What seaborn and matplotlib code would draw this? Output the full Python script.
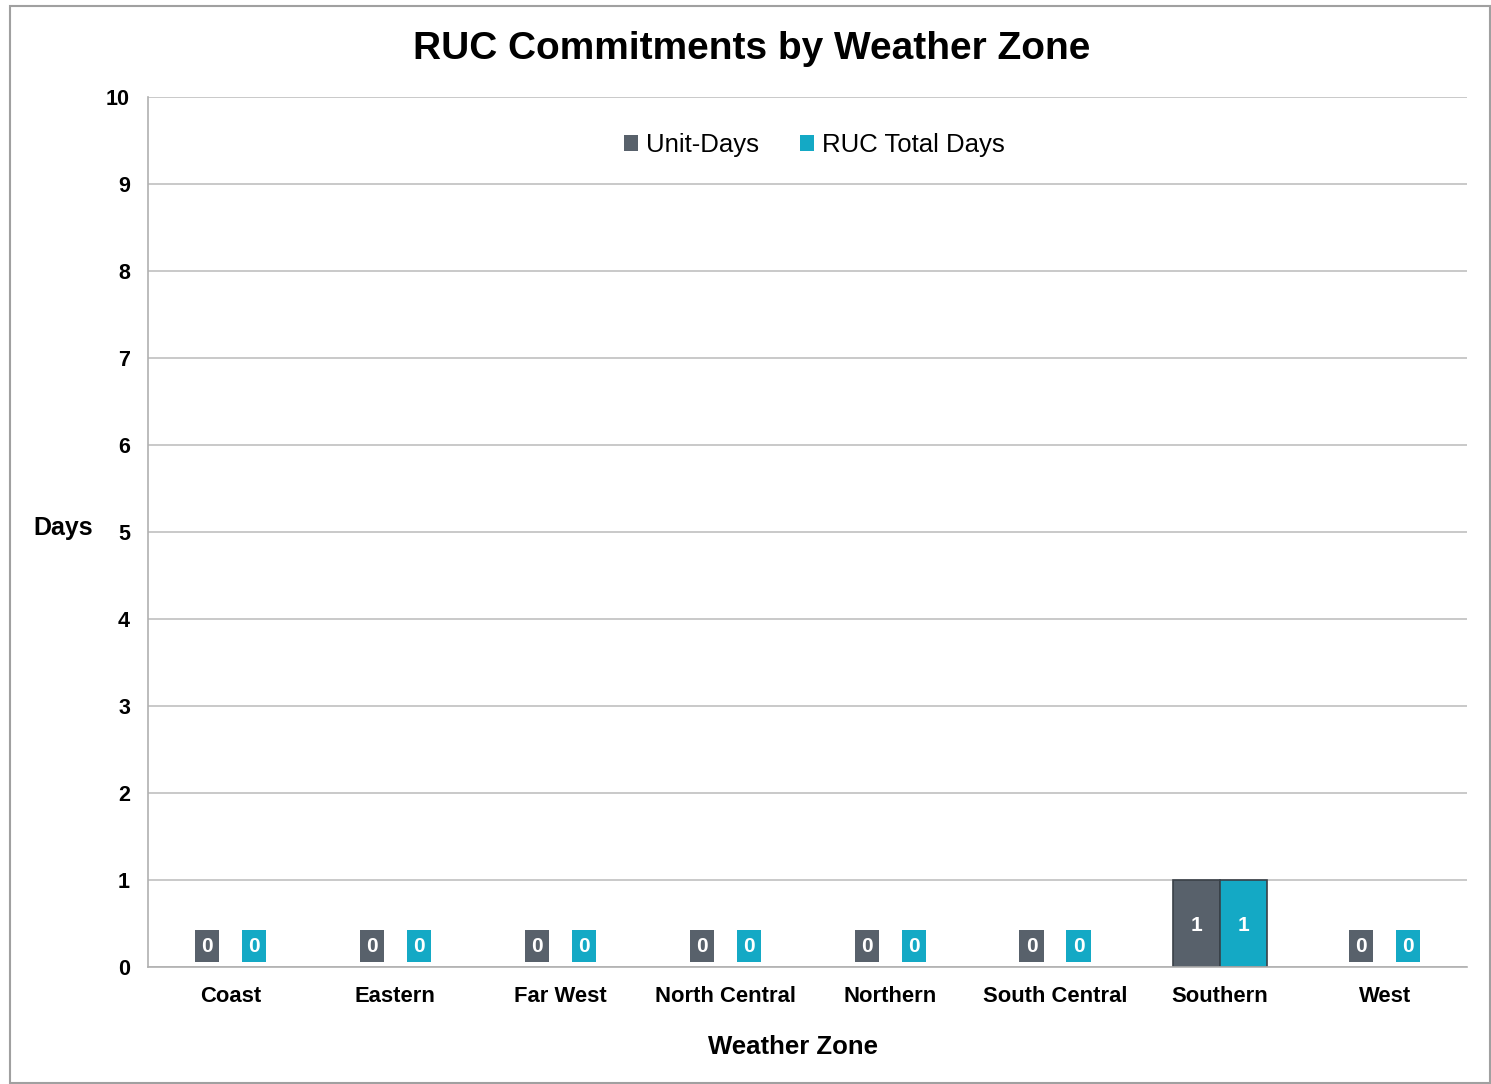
import pandas as pd
import numpy as np
import matplotlib.pyplot as plt
import seaborn as sns
from matplotlib.patches import Rectangle

zones = ['Coast', 'Eastern', 'Far West', 'North Central', 'Northern', 'South Central', 'Southern', 'West']
unit_days = [0, 0, 0, 0, 0, 0, 1, 0]
ruc_total_days = [0, 0, 0, 0, 0, 0, 1, 0]
series = ['Unit-Days', 'RUC Total Days']
colors = ['#58616b', '#14a9c5']

df = pd.DataFrame({
    'zone': zones * 2,
    'days': unit_days + ruc_total_days,
    'series': [series[0]] * len(zones) + [series[1]] * len(zones),
})

sns.set_style('white')
plt.rcParams['font.family'] = ['Liberation Sans', 'DejaVu Sans']
plt.rcParams['text.color'] = 'black'
plt.rcParams['axes.labelcolor'] = 'black'
plt.rcParams['xtick.color'] = 'black'
plt.rcParams['ytick.color'] = 'black'

fig = plt.figure(figsize=(14.91, 10.84), dpi=100)
ax = fig.add_axes([0.0993, 0.1079, 0.8848, 0.8026])

sns.barplot(data=df, x='zone', y='days', hue='series', palette=colors,
            width=0.57, ax=ax, edgecolor='#3a4148', linewidth=1.2, saturation=1)

# no outline on empty bars
for bar in ax.patches:
    if bar.get_height() == 0:
        bar.set_linewidth(0)

ax.set_ylim(0, 10)
ax.set_xlim(-0.5, 7.5)
ax.set_yticks(range(0, 11))
ax.yaxis.grid(True, color='#c0c0c0', linewidth=1.2)
ax.set_axisbelow(True)
for s in ['top', 'right']:
    ax.spines[s].set_visible(False)
for s in ['left', 'bottom']:
    ax.spines[s].set_color('#b0b0b0')
    ax.spines[s].set_linewidth(1.2)
ax.tick_params(axis='y', length=7, color='#b0b0b0', width=1.2, labelsize=15.5, pad=6)
ax.tick_params(axis='x', length=0, labelsize=15.8, pad=14)
for lab in ax.get_xticklabels() + ax.get_yticklabels():
    lab.set_fontweight('bold')

ax.set_xlabel('Weather Zone', fontsize=18.5, fontweight='bold')
ax.xaxis.set_label_coords(0.489, -0.078)
ax.set_ylabel('Days', fontsize=18, fontweight='bold', rotation=0, va='center')
ax.yaxis.set_label_coords(-0.064, 0.505)

# data labels
for cont, col in zip(ax.containers, colors):
    for bar in cont:
        h = bar.get_height()
        xc = bar.get_x() + bar.get_width() / 2
        if h > 0:
            ax.text(xc, h * 0.48, f'{h:.0f}', ha='center', va='center', color='white',
                    fontsize=15, fontweight='bold')
        else:
            ax.text(xc, 0.24, f'{h:.0f}', ha='center', va='center', color='white',
                    fontsize=15, fontweight='bold',
                    bbox=dict(boxstyle='square,pad=0.3', facecolor=col, edgecolor='none'))

leg = ax.legend(loc='upper center', bbox_to_anchor=(0.505, 0.985), ncol=2, frameon=False,
                fontsize=18.5, handlelength=0.55, handleheight=0.55, handletextpad=0.3,
                columnspacing=1.6)

fig.suptitle('RUC Commitments by Weather Zone', fontsize=28, fontweight='bold', x=0.504, y=0.971)

fig.patches.append(Rectangle((10 / 1491, 1 - 1083 / 1084), 1480 / 1491, 1077 / 1084,
                             transform=fig.transFigure, fill=False, edgecolor='#a0a0a0',
                             linewidth=1.5))

fig.savefig('out.png', dpi=100)
